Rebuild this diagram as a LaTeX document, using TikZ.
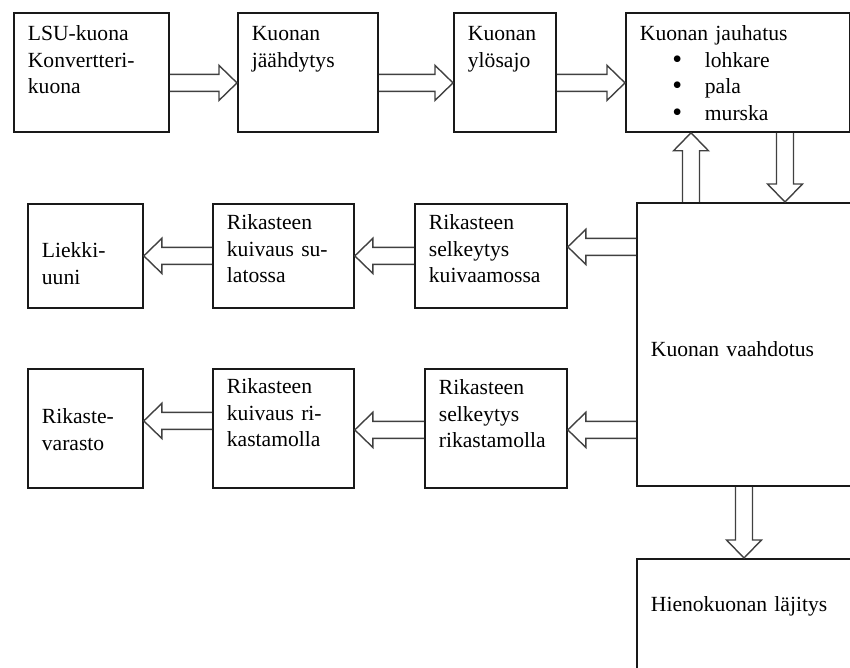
\documentclass[tikz,border=0pt]{standalone}
\usepackage{fontspec}
\setmainfont{Liberation Serif}
\usepackage{tikz}
\usetikzlibrary{calc}
\tikzset{
    stage/.style={
           rectangle,
           draw=black!90, line width=0.9pt,
           anchor=north west,
           align=left,
           inner xsep=7pt,
           inner ysep=0pt,
           text height=14pt,
           font=\fontsize{10.8pt}{13.2pt}\selectfont,
           },
    flow/.style={
           draw=black!75, line width=0.7pt,
           line join=miter,
           },
}
% bullet line inside a box
\newcommand{\bulletitem}[1]{\makebox[32.5pt][l]{\hspace*{16.2pt}\raisebox{-0.6pt}{\fontsize{14pt}{13.2pt}\selectfont\textbullet}}#1}
% hollow block arrow from #1 to #2
\newcommand{\blockarrow}[2]{%
  \draw[flow] let \p1=#1, \p2=#2,
      \n1={atan2(\y2-(\y1),\x2-(\x1))}, \n2={veclen(\x2-(\x1),\y2-(\y1))} in
    {[shift={(\p1)}, rotate=\n1]
      (0pt,-4.25pt) -- ({\n2-9pt},-4.25pt) -- ({\n2-9pt},-8.75pt) -- ({\n2},0pt)
      -- ({\n2-9pt},8.75pt) -- ({\n2-9pt},4.25pt) -- (0pt,4.25pt)};
}

\begin{document}
\begin{tikzpicture}[x=0.5pt, y=-0.5pt]
    \useasboundingbox (0,0) rectangle (850,668);
    \clip (0,0) rectangle (850,668);

    % top row: slag handling
    \node[stage, text width=63.5pt, text depth=45.5pt] (lsu) at (13,12)
    {LSU-kuona\\Konvertteri-\\kuona};
    \node[stage, text width=56pt, text depth=45.5pt] (cool) at (237,12)
    {Kuonan\\jäähdytys};
    \node[stage, text width=37pt, text depth=45.5pt] (rise) at (453,12)
    {Kuonan\\ylösajo};
    \node[stage, text width=98pt, text depth=45.5pt] (grind) at (625,12)
    {Kuonan jauhatus\\\bulletitem{lohkare}\\\bulletitem{pala}\\\bulletitem{murska}};

    % flotation and fine slag
    \node[stage, text width=118pt, text height=77pt, text depth=64.5pt] (froth) at (636,202)
    {Kuonan vaahdotus};
    \node[stage, text width=118pt, text height=26.5pt, text depth=54.5pt] (dump) at (636,558)
    {Hienokuonan läjitys};

    % middle row
    \node[stage, text width=62pt, text height=13pt, text depth=39pt] (clarify1) at (414,203)
    {Rikasteen\\selkeytys\\kuivaamossa};
    \node[stage, text width=56.5pt, text height=13pt, text depth=39pt] (drysmelt) at (212,203)
    {Rikasteen\\kuivaus su-\\latossa};
    \node[stage, text width=43.5pt, text height=27pt, text depth=25pt] (flame) at (27,203)
    {Liekki-\\uuni};

    % lower row
    \node[stage, text width=57pt, text height=13pt, text depth=46.5pt] (clarify2) at (424,368)
    {Rikasteen\\selkeytys\\rikastamolla};
    \node[stage, text width=56.5pt, text height=12.5pt, text depth=47pt] (drymill) at (212,368)
    {Rikasteen\\kuivaus ri-\\kastamolla};
    \node[stage, text width=43.5pt, text height=27.5pt, text depth=32pt] (store) at (27,368)
    {Rikaste-\\varasto};

    % arrows of the top row
    \blockarrow{($(lsu.east)+(0pt,-5.25pt)$)}{($(cool.west)+(0pt,-5.25pt)$)}
    \blockarrow{($(cool.east)+(0pt,-5.25pt)$)}{($(rise.west)+(0pt,-5.25pt)$)}
    \blockarrow{($(rise.east)+(0pt,-5.25pt)$)}{($(grind.west)+(0pt,-5.25pt)$)}

    % between grinding and flotation
    \blockarrow{($(froth.north west)+(27.5pt,0pt)$)}{($(grind.south west)+(33pt,0pt)$)}
    \blockarrow{($(grind.south west)+(80pt,0pt)$)}{($(froth.north west)+(74.5pt,0pt)$)}
    \blockarrow{($(froth.south west)+(54pt,0pt)$)}{($(dump.north west)+(54pt,0pt)$)}

    % middle row arrows
    \blockarrow{($(froth.west |- clarify1.east)+(0pt,4.5pt)$)}{($(clarify1.east)+(0pt,4.5pt)$)}
    \blockarrow{(clarify1.west)}{(drysmelt.east)}
    \blockarrow{(drysmelt.west)}{(flame.east)}

    % lower row arrows
    \blockarrow{($(froth.west |- clarify2.east)+(0pt,-0.75pt)$)}{($(clarify2.east)+(0pt,-0.75pt)$)}
    \blockarrow{($(clarify2.west)+(0pt,-0.75pt)$)}{($(drymill.east)+(0pt,-0.75pt)$)}
    \blockarrow{($(drymill.west)+(0pt,3.75pt)$)}{($(store.east)+(0pt,3.75pt)$)}
\end{tikzpicture}
\end{document}
